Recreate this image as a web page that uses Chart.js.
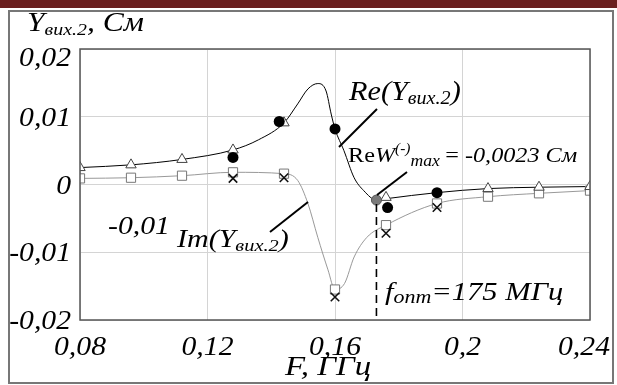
<!DOCTYPE html>
<html>
<head>
<meta charset="utf-8">
<script src="https://cdn.jsdelivr.net/npm/chart.js@4"></script>
<style>
  body { margin: 0; background: #fff; }
  #wrap { position: relative; width: 617px; height: 385px; }
</style>
</head>
<body>
<div id="wrap"><canvas id="admChart" width="617" height="385"></canvas></div>
<script>
// model points (triangles / squares)
const freqModel = [0.08, 0.096, 0.112, 0.128, 0.144, 0.16, 0.176, 0.192, 0.208, 0.224, 0.24];
const reModel = [0.0025, 0.0029, 0.0037, 0.0051, 0.0091, null, -0.0019, null, -0.0006, -0.0004, -0.0003];
const imModel = [0.0009, 0.0010, 0.0013, 0.0018, 0.0016, -0.0155, -0.0060, -0.0028, -0.0018, -0.0013, -0.0009];

// smooth curves
const freqCurveRe = [0.08, 0.096, 0.112, 0.128, 0.136, 0.144, 0.1483, 0.1515, 0.1546, 0.1572, 0.1588, 0.16, 0.1628, 0.166, 0.169, 0.173, 0.176, 0.192, 0.208, 0.224, 0.24];
const reCurve = [0.0025, 0.0029, 0.0037, 0.0051, 0.0066, 0.0091, 0.0119, 0.0141, 0.0149, 0.0138, 0.0104, 0.0082, 0.0050, 0.0010, -0.0009, -0.0023, -0.0021, -0.0012, -0.0006, -0.0004, -0.0003];
const freqCurveIm = [0.08, 0.096, 0.112, 0.128, 0.144, 0.1483, 0.1515, 0.1546, 0.1578, 0.16, 0.163, 0.166, 0.17, 0.176, 0.192, 0.208, 0.224, 0.24];
const imCurve = [0.0009, 0.0010, 0.0013, 0.0018, 0.0016, 0.0006, -0.0028, -0.0078, -0.0126, -0.0155, -0.0146, -0.0107, -0.0078, -0.0060, -0.0028, -0.0018, -0.0013, -0.0009];

// measured points (dots / crosses)
const freqMeasRe = [0.128, 0.1425, 0.16, 0.1765, 0.192];
const reMeas = [0.0040, 0.0093, 0.0082, -0.0034, -0.0012];
const freqMeasIm = [0.128, 0.144, 0.16, 0.176, 0.192];
const imMeas = [0.0009, 0.0010, -0.0166, -0.0072, -0.0034];

// optimum point
const freqOpt = [0.173];
const reOpt = [-0.0023];

const xTicks = [0.08, 0.12, 0.16, 0.2, 0.24];
const xTickLabels = ["0,08", "0,12", "0,16", "0,2", "0,24"];
const yTicks = [0.02, 0.01, 0, -0.01, -0.02];
const yTickLabels = ["0,02", "0,01", "0", "-0,01", "-0,02"];

const pts = (xs, ys) => xs.map((x, i) => ({ x: x, y: ys[i] }));
const SERIF = '"Liberation Serif", "Times New Roman", serif';

// width of a row of text pieces
function runsWidth(c, parts) {
  let w = 0;
  parts.forEach((p) => {
    c.font = p.f;
    w += c.measureText(p.t).width + (p.gap || 0);
  });
  return w;
}

// draw a row of text pieces (subscripts etc.), stretched sideways by sx
function runs(c, x, y, parts, sx, align) {
  sx = sx || 1;
  c.save();
  c.translate(x, y);
  c.scale(sx, 1);
  let cx = 0;
  if (align === "right") cx = -runsWidth(c, parts);
  if (align === "center") cx = -runsWidth(c, parts) / 2;
  parts.forEach((p) => {
    c.font = p.f;
    c.fillText(p.t, cx, p.dy || 0);
    cx += c.measureText(p.t).width + (p.gap || 0);
  });
  c.restore();
}

const decor = {
  id: "decor",
  beforeDraw(chart) {
    const c = chart.ctx;
    c.save();
    c.fillStyle = "#fff";
    c.fillRect(0, 0, chart.width, chart.height);
    c.fillStyle = "#6b1f1f";
    c.fillRect(0, 0, chart.width, 8);
    c.strokeStyle = "#777";
    c.lineWidth = 2;
    c.strokeRect(9, 11, 604, 372);
    c.restore();
  },
  afterDraw(chart) {
    const c = chart.ctx;
    const xs = chart.scales.x, ys = chart.scales.y;
    const a = chart.chartArea;
    c.save();
    // plot frame
    c.strokeStyle = "#555";
    c.lineWidth = 1.5;
    c.strokeRect(a.left, a.top, a.right - a.left, a.bottom - a.top);

    c.fillStyle = "#000";
    c.textBaseline = "alphabetic";
    c.textAlign = "left";
    const tickFont = "italic 27px " + SERIF;
    // y tick labels
    yTicks.forEach((v, i) => {
      const py = Math.max(ys.getPixelForValue(v), a.top + 8);
      runs(c, a.left - 9, py + 9, [{ t: yTickLabels[i], f: tickFont }], 1.1, "right");
    });
    // x tick labels
    xTicks.forEach((v, i) => {
      const px = Math.min(xs.getPixelForValue(v), a.right - 6);
      runs(c, px, a.bottom + 35, [{ t: xTickLabels[i], f: tickFont }], 1.1, "center");
    });

    // dashed optimum line
    const ox = xs.getPixelForValue(freqOpt[0]);
    c.strokeStyle = "#000";
    c.lineWidth = 1.6;
    c.setLineDash([8, 5]);
    c.beginPath();
    c.moveTo(ox, ys.getPixelForValue(reOpt[0]) + 4);
    c.lineTo(ox, a.bottom);
    c.stroke();
    c.setLineDash([]);

    // leader lines
    c.lineWidth = 2;
    [[377, 109, 339, 147], [407, 172, 377, 195], [308, 202, 270, 232]].forEach((l) => {
      c.beginPath();
      c.moveTo(l[0], l[1]);
      c.lineTo(l[2], l[3]);
      c.stroke();
    });

    // axis titles
    runs(c, 27, 31, [
      { t: "Y", f: "italic 27px " + SERIF },
      { t: "вих.2", f: "italic 17px " + SERIF, dy: 4 },
      { t: ", См", f: "italic 27px " + SERIF },
    ], 1.17);
    runs(c, 285, 375, [{ t: "F, ГГц", f: "italic 27px " + SERIF }], 1.22);

    // curve labels
    runs(c, 349, 100, [
      { t: "Re(Y", f: "italic 27px " + SERIF },
      { t: "вих.2", f: "italic 18px " + SERIF, dy: 4 },
      { t: ")", f: "italic 27px " + SERIF },
    ], 1.12);
    runs(c, 348, 162, [
      { t: "Re", f: "22px " + SERIF },
      { t: "W", f: "italic 22px " + SERIF },
      { t: "(-)", f: "italic 14px " + SERIF, dy: -9 },
      { t: "max", f: "italic 16px " + SERIF, dy: 4, gap: 5 },
      { t: "= ", f: "22px " + SERIF },
      { t: "-0,0023 См", f: "italic 22px " + SERIF },
    ], 1.1);
    runs(c, 108, 234, [{ t: "-0,01", f: "italic 25px " + SERIF }], 1.19);
    runs(c, 177, 247, [
      { t: "Im(Y", f: "italic 25px " + SERIF },
      { t: "вих.2", f: "italic 17px " + SERIF, dy: 4 },
      { t: ")", f: "italic 25px " + SERIF },
    ], 1.2);
    runs(c, 385, 300, [
      { t: "f", f: "italic 25px " + SERIF },
      { t: "опт", f: "italic 18px " + SERIF, dy: 3 },
      { t: "=175 МГц", f: "italic 25px " + SERIF },
    ], 1.22);
    c.restore();
  },
};

const chart = new Chart(document.querySelector("#admChart"), {
  type: "line",
  data: {
    datasets: [
      {
        data: pts(freqCurveRe, reCurve),
        borderColor: "#000",
        borderWidth: 1,
        pointRadius: 0,
        cubicInterpolationMode: "monotone",
        clip: 0,
        order: 10,
      },
      {
        data: pts(freqCurveIm, imCurve),
        borderColor: "#999",
        borderWidth: 1,
        pointRadius: 0,
        cubicInterpolationMode: "monotone",
        clip: 0,
        order: 10,
      },
      {
        data: pts(freqModel, imModel),
        showLine: false,
        pointStyle: "rect",
        pointRadius: 6.5,
        pointBorderWidth: 1,
        pointBorderColor: "#777",
        pointBackgroundColor: "#fff",
        clip: 0,
        order: 5,
      },
      {
        data: pts(freqModel, reModel),
        showLine: false,
        pointStyle: "triangle",
        pointRadius: 6,
        pointBorderWidth: 1,
        pointBorderColor: "#444",
        pointBackgroundColor: "#fff",
        clip: 0,
        order: 4,
      },
      {
        data: pts(freqMeasIm, imMeas),
        showLine: false,
        pointStyle: "crossRot",
        pointRadius: 6,
        pointBorderWidth: 1.6,
        pointBorderColor: "#111",
        clip: 0,
        order: 3,
      },
      {
        data: pts(freqMeasRe, reMeas),
        showLine: false,
        pointStyle: "circle",
        pointRadius: 5.5,
        pointBorderWidth: 0,
        pointBackgroundColor: "#000",
        clip: 0,
        order: 2,
      },
      {
        data: pts(freqOpt, reOpt),
        showLine: false,
        pointStyle: "circle",
        pointRadius: 5,
        pointBorderWidth: 1,
        pointBorderColor: "#555",
        pointBackgroundColor: "#7a7a7a",
        clip: 0,
        order: 1,
      },
    ],
  },
  options: {
    responsive: false,
    animation: false,
    layout: { padding: { left: 0, top: 49, right: 27, bottom: 0 } },
    plugins: { legend: { display: false }, tooltip: { enabled: false } },
    scales: {
      x: {
        type: "linear",
        min: 0.08,
        max: 0.24,
        afterBuildTicks: (s) => { s.ticks = xTicks.map((v) => ({ value: v })); },
        afterFit: (s) => { s.height = 65; },
        grid: { color: "#d4d4d4", lineWidth: 1, drawTicks: false },
        border: { display: false },
        ticks: { display: false },
      },
      y: {
        type: "linear",
        min: -0.02,
        max: 0.02,
        afterBuildTicks: (s) => { s.ticks = yTicks.map((v) => ({ value: v })); },
        afterFit: (s) => { s.width = 80; },
        grid: { color: "#d4d4d4", lineWidth: 1, drawTicks: false },
        border: { display: false },
        ticks: { display: false },
      },
    },
  },
  plugins: [decor],
});
</script>
</body>
</html>
